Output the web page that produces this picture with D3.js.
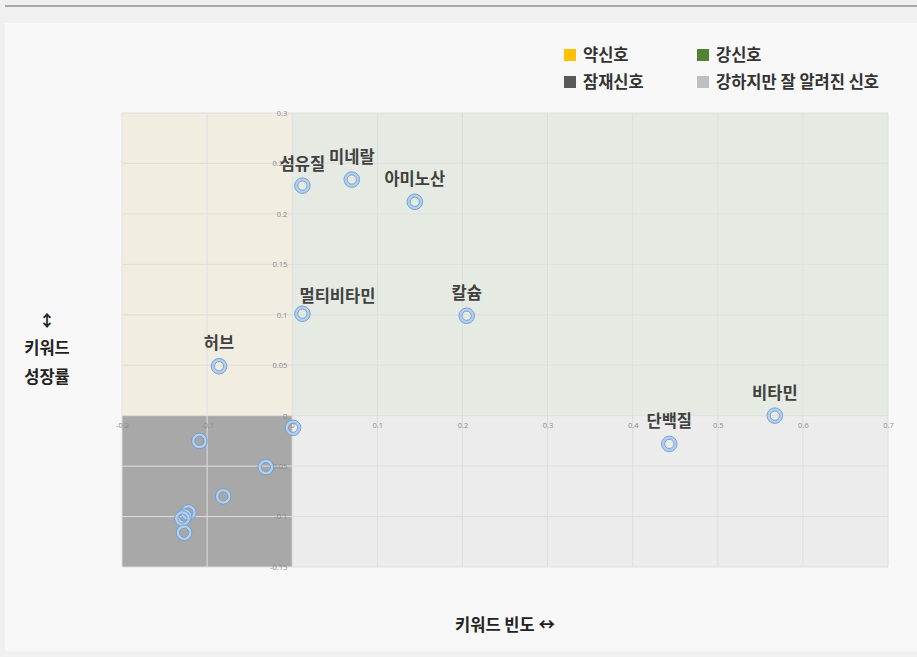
<!DOCTYPE html>
<html>
<head>
<meta charset="utf-8">
<script src="https://cdn.jsdelivr.net/npm/d3@7"></script>
<style>
  body { margin: 0; background: #f0f0f0; font-family: "Noto Sans CJK KR", "Noto Sans", sans-serif; }
  svg { display: block; }
</style>
</head>
<body>
<script>
// keyword names (empty = unlabeled point)
var names = ["섬유질", "미네랄", "아미노산", "멀티비타민", "칼슘", "허브", "비타민", "단백질",
             "", "", "", "", "", "", "", ""];
// keyword frequency (x)
var freq = [0.012, 0.070, 0.144, 0.012, 0.205, -0.086, 0.567, 0.443,
            0.001, -0.109, -0.031, -0.081, -0.122, -0.127, -0.129, -0.127];
// keyword growth rate (y)
var growth = [0.228, 0.234, 0.212, 0.101, 0.099, 0.049, 0.000, -0.028,
              -0.012, -0.025, -0.051, -0.080, -0.096, -0.100, -0.102, -0.116];

var xTicks = [-0.2, -0.1, 0, 0.1, 0.2, 0.3, 0.4, 0.5, 0.6, 0.7];
var yTicks = [-0.15, -0.1, -0.05, 0, 0.05, 0.1, 0.15, 0.2, 0.25, 0.3];

var legendNames = ["약신호", "강신호", "잠재신호", "강하지만 잘 알려진 신호"];
var legendColors = ["#ffc000", "#548235", "#595959", "#bfbfbf"];

// label nudges (layout only)
var labelShift = { "멀티비타민": [35, 5], "섬유질": [0, 1] };

var width = 917, height = 657;
var svg = d3.select("body").append("svg")
    .attr("width", width)
    .attr("height", height);

// top rule and panel
svg.append("rect").attr("x", 5).attr("y", 5).attr("width", width - 5).attr("height", 2).attr("fill", "#a8a8a8");
svg.append("rect").attr("x", 5).attr("y", 23).attr("width", width - 5).attr("height", 628).attr("fill", "#f8f8f8");

var x = d3.scaleLinear().domain([-0.2, 0.7]).range([122, 888]);
var y = d3.scaleLinear().domain([-0.15, 0.3]).range([567, 113]);

var plot = svg.append("g");

// quadrant backgrounds
var quads = [
    { x0: -0.2, x1: 0, y0: 0, y1: 0.3, c: "#f1ede0" },
    { x0: 0, x1: 0.7, y0: 0, y1: 0.3, c: "#e5ebe3" },
    { x0: -0.2, x1: 0, y0: -0.15, y1: 0, c: "#a8a8a8" },
    { x0: 0, x1: 0.7, y0: -0.15, y1: 0, c: "#ececec" }
];
plot.selectAll(".quad")
    .data(quads)
    .enter()
    .append("rect")
    .attr("class", "quad")
    .attr("x", function(d){ return x(d.x0); })
    .attr("y", function(d){ return y(d.y1); })
    .attr("width", function(d){ return x(d.x1) - x(d.x0); })
    .attr("height", function(d){ return y(d.y0) - y(d.y1); })
    .attr("fill", function(d){ return d.c; });

// grid lines
plot.selectAll(".vgrid")
    .data(xTicks)
    .enter()
    .append("line")
    .attr("x1", function(d){ return x(d); })
    .attr("x2", function(d){ return x(d); })
    .attr("y1", y(0.3))
    .attr("y2", y(-0.15))
    .attr("stroke", "#dedede")
    .attr("stroke-width", 1);

plot.selectAll(".hgrid")
    .data(yTicks)
    .enter()
    .append("line")
    .attr("x1", x(-0.2))
    .attr("x2", x(0.7))
    .attr("y1", function(d){ return y(d); })
    .attr("y2", function(d){ return y(d); })
    .attr("stroke", "#dedede")
    .attr("stroke-width", 1);

var fmt = function(d){ return String(+d.toFixed(2)); };

// x axis along y = 0
var xAxis = plot.append("g")
    .attr("transform", "translate(0," + y(0) + ")")
    .call(d3.axisBottom(x).tickValues(xTicks).tickFormat(fmt).tickSize(0).tickPadding(7));
xAxis.select(".domain").remove();

// y axis along x = 0
var yAxis = plot.append("g")
    .attr("transform", "translate(" + (x(0) - 3) + ",0)")
    .call(d3.axisLeft(y).tickValues(yTicks).tickFormat(fmt).tickSize(0).tickPadding(2));
yAxis.select(".domain").remove();

plot.selectAll(".tick text")
    .attr("fill", "#8a8a8a")
    .style("font-family", "'Open Sans', sans-serif")
    .style("font-size", "7.5px");

// points
var pts = d3.range(freq.length);
var marks = plot.selectAll(".pt")
    .data(pts)
    .enter()
    .append("g")
    .attr("class", "pt")
    .attr("transform", function(i){ return "translate(" + x(freq[i]) + "," + y(growth[i]) + ")"; });

marks.append("circle")
    .attr("r", 6.2)
    .attr("fill", "none")
    .attr("stroke", "#b3cfec")
    .attr("stroke-width", 3);
marks.append("circle")
    .attr("r", 7.8)
    .attr("fill", "none")
    .attr("stroke", "#6c9bd2")
    .attr("stroke-width", 0.9);
marks.append("circle")
    .attr("r", 4.6)
    .attr("fill", "none")
    .attr("stroke", "#6c9bd2")
    .attr("stroke-width", 0.9);

// point labels
plot.selectAll(".lbl")
    .data(pts.filter(function(i){ return names[i] !== ""; }))
    .enter()
    .append("text")
    .attr("class", "lbl")
    .attr("x", function(i){ var s = labelShift[names[i]] || [0, 0]; return x(freq[i]) + s[0]; })
    .attr("y", function(i){ var s = labelShift[names[i]] || [0, 0]; return y(growth[i]) - 17 + s[1]; })
    .attr("text-anchor", "middle")
    .attr("fill", "#404040")
    .style("font-size", "16.5px")
    .style("font-weight", "bold")
    .text(function(i){ return names[i]; });

// legend
var legend = svg.selectAll(".legend")
    .data(legendNames)
    .enter()
    .append("g")
    .attr("class", "legend")
    .attr("transform", function(d, i){
        return "translate(" + (564 + (i % 2) * 133) + "," + (49 + Math.floor(i / 2) * 27) + ")";
    });
legend.append("rect")
    .attr("width", 12)
    .attr("height", 12)
    .attr("fill", function(d, i){ return legendColors[i]; });
legend.append("text")
    .attr("x", 19)
    .attr("y", 12)
    .attr("fill", "#333")
    .style("font-size", "16.5px")
    .style("font-weight", "bold")
    .text(function(d){ return d; });

// axis titles
var yTitle = svg.append("text")
    .attr("text-anchor", "middle")
    .attr("fill", "#222")
    .style("font-size", "16.5px")
    .style("font-weight", "bold");
yTitle.append("tspan").attr("x", 47).attr("y", 327).text("↕");
yTitle.append("tspan").attr("x", 47).attr("y", 354).text("키워드");
yTitle.append("tspan").attr("x", 47).attr("y", 383).text("성장률");

svg.append("text")
    .attr("x", 505)
    .attr("y", 631)
    .attr("text-anchor", "middle")
    .attr("fill", "#222")
    .style("font-size", "16.5px")
    .style("font-weight", "bold")
    .text("키워드 빈도 ↔");
</script>
</body>
</html>
